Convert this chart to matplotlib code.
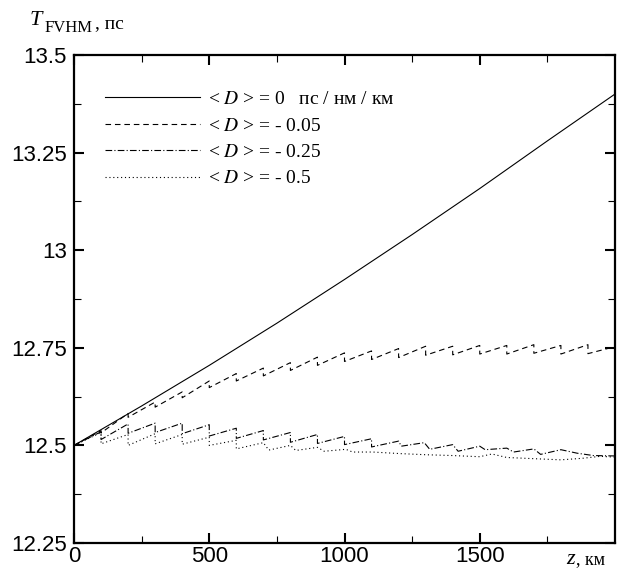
import numpy as np
import matplotlib
matplotlib.use('Agg')
import matplotlib.pyplot as plt
from matplotlib.ticker import FixedLocator

plt.rcParams['mathtext.fontset'] = 'stix'

# T_FWHM (ps) vs distance z (km)
z_d0 = [0, 250, 500, 750, 1000, 1250, 1500, 1750, 2000]
t_d0 = [12.5, 12.601, 12.705, 12.813, 12.925, 13.04, 13.158, 13.28, 13.40]

z_d005 = [0, 100, 100, 200, 200, 300, 300, 400, 400, 500, 500, 600, 600, 700, 700,
          800, 800, 900, 900, 1000, 1000, 1100, 1100, 1200, 1200, 1300, 1300, 1400, 1400,
          1500, 1500, 1600, 1600, 1700, 1700, 1800, 1800, 1900, 1900, 2000]
t_d005 = [12.5, 12.538, 12.532, 12.582, 12.572, 12.611, 12.598, 12.637, 12.622, 12.665, 12.648,
          12.684, 12.665, 12.698, 12.678, 12.712, 12.692, 12.726, 12.705, 12.737, 12.715,
          12.742, 12.72, 12.748, 12.725, 12.754, 12.731, 12.754, 12.732, 12.756, 12.734,
          12.756, 12.734, 12.758, 12.736, 12.756, 12.734, 12.758, 12.735, 12.753]

z_d025 = [0, 100, 100, 200, 200, 300, 300, 400, 400, 500, 500, 600, 600, 700, 700,
          800, 800, 900, 900, 1000, 1000, 1100, 1100, 1200, 1210, 1295, 1315, 1400, 1420,
          1500, 1520, 1600, 1625, 1700, 1725, 1800, 1860, 1920, 2000]
t_d025 = [12.5, 12.535, 12.515, 12.555, 12.531, 12.557, 12.533, 12.557, 12.530, 12.553, 12.524,
          12.544, 12.518, 12.538, 12.514, 12.533, 12.508, 12.528, 12.505, 12.523, 12.502,
          12.517, 12.496, 12.511, 12.498, 12.507, 12.490, 12.502, 12.485, 12.498, 12.489,
          12.493, 12.483, 12.491, 12.477, 12.489, 12.480, 12.474, 12.473]

z_d05 = [0, 100, 100, 200, 200, 300, 300, 400, 400, 500, 500, 600, 600, 700, 720,
         800, 820, 900, 925, 1005, 1030, 1105, 1205, 1305, 1400, 1500, 1545, 1600, 1700,
         1800, 1880, 1945, 2000]
t_d05 = [12.5, 12.533, 12.504, 12.528, 12.500, 12.530, 12.504, 12.528, 12.503, 12.521, 12.500,
         12.513, 12.491, 12.507, 12.488, 12.500, 12.487, 12.495, 12.485, 12.490, 12.483,
         12.483, 12.479, 12.476, 12.474, 12.471, 12.478, 12.469, 12.466, 12.463, 12.467,
         12.472, 12.470]

labels = ['< $D$ > = 0   пс / нм / км', '< $D$ > = - 0.05', '< $D$ > = - 0.25', '< $D$ > = - 0.5']

fig = plt.figure(figsize=(6.25, 5.68), dpi=100)
ax = fig.add_axes([74/625, 1-543/568, (615-74)/625, (543-55)/568])

ax.plot(z_d0, t_d0, color='black', lw=0.8, label=labels[0])
ax.plot(z_d005, t_d005, color='black', lw=0.8, dashes=(5, 3.5), label=labels[1])
ax.plot(z_d025, t_d025, color='black', lw=0.8, dashes=(6, 2, 1, 2), label=labels[2])
ax.plot(z_d05, t_d05, color='black', lw=0.8, dashes=(1, 2.5), label=labels[3])

ax.set_xlim(0, 2000)
ax.set_ylim(12.25, 13.5)
ax.xaxis.set_major_locator(FixedLocator([0, 500, 1000, 1500]))
ax.xaxis.set_minor_locator(FixedLocator([250, 750, 1250, 1750]))
ax.yaxis.set_major_locator(FixedLocator([12.25, 12.5, 12.75, 13, 13.25, 13.5]))
ax.yaxis.set_minor_locator(FixedLocator([12.375, 12.625, 12.875, 13.125, 13.375]))
ax.set_xticklabels(['0', '500', '1000', '1500'], family='Liberation Sans', fontsize=16)
ax.set_yticklabels(['12.25', '12.5', '12.75', '13', '13.25', '13.5'], family='Liberation Sans', fontsize=16)
ax.tick_params(which='major', direction='in', length=7, width=1.5, top=True, right=True)
ax.tick_params(axis='x', which='major', pad=2)
ax.tick_params(axis='y', which='major', pad=5)
ax.tick_params(which='minor', direction='in', length=5, width=0.8, top=True, right=True)
for s in ax.spines.values():
    s.set_linewidth(1.6)

leg = ax.legend(loc='upper left', bbox_to_anchor=(0.057, 0.927), frameon=False, handlelength=4.9,
                labelspacing=0.45, handletextpad=0.4, borderpad=0, borderaxespad=0,
                prop={'family': 'Liberation Serif', 'size': 14})

# axis titles drawn as in the original (top-left and bottom-right)
fig.text(30/625, 1-25/568, 'T', family='Liberation Serif', style='italic', fontsize=16, ha='left', va='baseline')
fig.text(45/625, 1-32/568, 'FVHM', family='Liberation Serif', fontsize=12, ha='left', va='baseline')
fig.text(95/625, 1-28/568, ', пс', family='Liberation Serif', fontsize=14, ha='left', va='baseline')
fig.text(566/625, 1-564/568, 'z', family='Liberation Serif', style='italic', fontsize=16, ha='left', va='baseline')
fig.text(576/625, 1-564/568, ', км', family='Liberation Serif', fontsize=13, ha='left', va='baseline')

fig.savefig('out.png', dpi=100)
